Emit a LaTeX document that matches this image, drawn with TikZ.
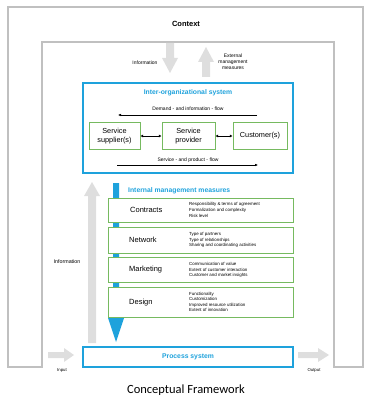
\documentclass[tikz,border=0pt]{standalone}
\usepackage{fontspec}
\setmainfont{Liberation Sans}
\newfontfamily\capfont{Carlito}
\usetikzlibrary{arrows.meta}
\definecolor{sysblue}{RGB}{30,162,220}
\definecolor{boxgreen}{RGB}{118,186,96}
\definecolor{framegray}{RGB}{192,192,192}
\definecolor{arrowgray}{RGB}{222,222,222}
\tikzset{
  sysbox/.style={draw=sysblue, line width=1.2pt, fill=white, inner sep=0pt},
  actorbox/.style={draw=boxgreen, line width=1pt, fill=white, inner sep=0pt, align=center,
    font=\fontsize{7.3}{8.3}\selectfont},
  measurebox/.style={draw=boxgreen, line width=1pt, fill=white, inner sep=0pt, minimum width=185pt},
  systitle/.style={text=sysblue, font=\fontsize{6.8}{8}\selectfont\bfseries, inner sep=0pt},
  measurelabel/.style={anchor=west, inner sep=0pt, font=\fontsize{7.5}{9}\selectfont},
  detail/.style={anchor=west, inner sep=0pt, align=left, font=\fontsize{4.4}{5.6}\selectfont},
  smalltext/.style={inner sep=0pt, align=center, font=\fontsize{5}{6}\selectfont},
  flowline/.style={line width=0.5pt, -{Latex[length=3pt,width=2.6pt]}},
  linkline/.style={line width=0.9pt, {Latex[length=2.6pt,width=3pt]}-{Latex[length=2.6pt,width=3pt]}}
}
\begin{document}
\begin{tikzpicture}[x=1pt,y=-1pt]
\useasboundingbox (0,0) rectangle (365,398);

% context frame, open at the bottom
\draw[framegray, line width=1.3pt]
  (42,367) -- (8,367) -- (8,7) -- (363,7) -- (363,367) -- (334,367) -- (334,42) -- (42,42) -- cycle;
\node[font=\fontsize{7.5}{9}\selectfont\bfseries, inner sep=0pt] (context) at (186,24) {Context};

% exchange with the environment
\fill[arrowgray] (166,43) -- (174,43) -- (174,58) -- (178,58) -- (170,73) -- (162,58) -- (166,58) -- cycle;
\fill[arrowgray] (202,77) -- (210,77) -- (210,62) -- (214,62) -- (206,47) -- (198,62) -- (202,62) -- cycle;
\node[smalltext] (infoin) at (145,63) {Information};
\node[smalltext] (extmeas) at (233,62) {External\\management\\measures};

% inter-organizational system
\node[sysbox, minimum width=210pt, minimum height=90pt] (inter) at (188,128) {};
\node[systitle] (intertitle) at (188,93) {Inter-organizational system};
\node[smalltext] (demandtxt) at (188,109) {Demand - and information - flow};
\coordinate (demandA) at (257,115);
\coordinate (demandB) at (118,115);
\draw[flowline] (demandA) -- (demandB);

\node[actorbox, minimum width=51pt, minimum height=26pt] (supplier) at (114.5,136) {Service\\supplier(s)};
\node[actorbox, minimum width=53pt, minimum height=26pt] (provider) at (188.5,136) {Service\\provider};
\node[actorbox, minimum width=54pt, minimum height=26pt] (customer) at (260,136) {Customer(s)};
\draw[linkline] (supplier) -- (provider);
\draw[linkline] (provider) -- (customer);

\node[smalltext] (servicetxt) at (188,160) {Service - and product - flow};
\coordinate (serviceA) at (117,165);
\coordinate (serviceB) at (258,165);
\draw[flowline] (serviceA) -- (serviceB);

% information feedback
\fill[arrowgray] (88,343) -- (96,343) -- (96,196) -- (100,196) -- (92,182) -- (84,196) -- (88,196) -- cycle;
\node[smalltext, font=\fontsize{5.3}{6}\selectfont] (infoback) at (67,262) {Information};

% internal management measures acting on the process system
\fill[sysblue] (113,183) -- (119,183) -- (119,318) -- (124,318) -- (116,342) -- (108,318) -- (113,318) -- cycle;
\node[systitle, anchor=west] (imm) at (128,191) {Internal management measures};

\node[measurebox, minimum height=24pt] (contracts) at (200.5,210) {};
\node[measurelabel] (contractsl) at (130,210) {Contracts};
\node[detail] (contractsd) at (189,210) {Responsibility \& terms of agreement\\Formalization and complexity\\Risk level};

\node[measurebox, minimum height=26pt] (network) at (200.5,240) {};
\node[measurelabel] (networkl) at (129,240) {Network};
\node[detail] (networkd) at (189,240) {Type of partners\\Type of relationships\\Sharing and coordinating activities};

\node[measurebox, minimum height=25pt] (marketing) at (200.5,269.5) {};
\node[measurelabel] (marketingl) at (129,270) {Marketing};
\node[detail] (marketingd) at (189,270) {Communication of value\\Extent of customer interaction\\Customer and market insights};

\node[measurebox, minimum height=30pt] (design) at (200.5,302) {};
\node[measurelabel] (designl) at (129,303) {Design};
\node[detail] (designd) at (189,302) {Functionality\\Customization\\Improved resource utilization\\Extent of innovation};

% process system with input and output
\node[sysbox, minimum width=210pt, minimum height=20pt] (process) at (188,357) {};
\node[systitle] (processtitle) at (188,357) {Process system};
\fill[arrowgray] (48,352) -- (64,352) -- (64,348) -- (74,355) -- (64,362) -- (64,358) -- (48,358) -- cycle;
\fill[arrowgray] (298,352) -- (318,352) -- (318,348) -- (329,355) -- (318,362) -- (318,358) -- (298,358) -- cycle;
\node[smalltext, font=\fontsize{4.3}{5}\selectfont] (input) at (62,370) {Input};
\node[smalltext, font=\fontsize{4.3}{5}\selectfont] (output) at (314,370) {Output};

% caption
\node[font=\capfont\fontsize{12.5}{14}\selectfont, inner sep=0pt] (caption) at (186,390) {Conceptual Framework};
\end{tikzpicture}
\end{document}
